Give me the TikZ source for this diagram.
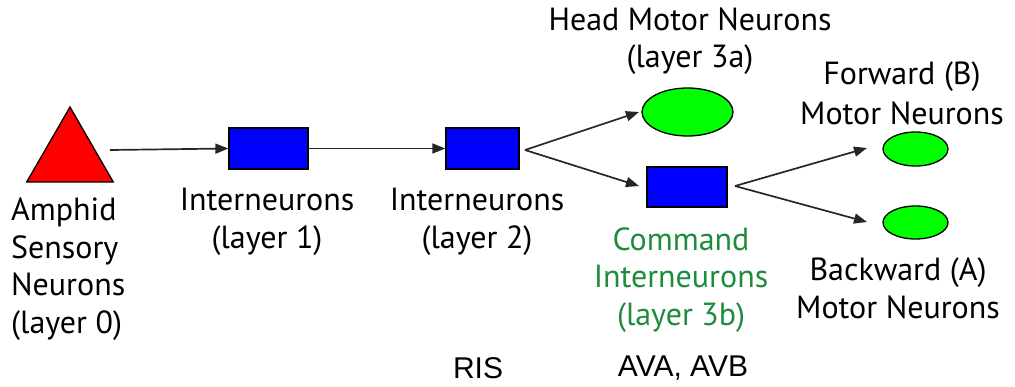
\documentclass[tikz,border=0pt]{standalone}
\usepackage{fontspec}
\setmainfont{PT Sans}
\newfontfamily\arialfont{Liberation Sans}
\usetikzlibrary{arrows.meta,shapes.geometric}
\definecolor{cmdgreen}{RGB}{30,140,60}
\tikzset{
  box/.style={draw=black, line width=1.3pt, fill=blue, minimum width=79pt, minimum height=41pt, inner sep=0pt},
  cell/.style={draw=black, line width=1.3pt, fill=green, ellipse, inner sep=0pt},
  arr/.style={line width=1.7pt, draw={black!85}, -{Triangle[length=13pt,width=10pt]}},
  lbl/.style={font=\fontsize{32}{37.5}\selectfont, align=center, inner sep=0pt},
  codes/.style={font=\arialfont\fontsize{30}{32}\selectfont, inner sep=0pt},
}
\begin{document}
\begin{tikzpicture}[x=1pt,y=-1pt]
\useasboundingbox (0,0) rectangle (1015,386);
\node[draw=black, line width=1.3pt, fill=red, regular polygon, regular polygon sides=3, minimum size=100pt, inner sep=0pt] (tri) at (70,157) {};
\node[box] (b1) at (268.5,148.5) {};
\node[box, minimum width=73pt] (b2) at (482.5,148.5) {};
\node[cell, minimum width=91pt, minimum height=48pt] (head) at (687.5,112) {};
\node[box, minimum width=80pt, minimum height=40pt] (b3) at (687,187) {};
\node[cell, minimum width=65pt, minimum height=34pt] (fwd) at (915.5,149) {};
\node[cell, minimum width=65pt, minimum height=33pt] (bwd) at (915.5,222.5) {};
\coordinate (s0) at (110,150);
\draw[arr] (s0) -- (b1.west);
\draw[arr] (b1.east) -- (b2.west);
\coordinate (s2) at (525,150);
\coordinate (e2a) at (639,112);
\coordinate (e2b) at (639,186);
\draw[arr] (s2) -- (e2a);
\draw[arr] (s2) -- (e2b);
\coordinate (s3) at (735,186);
\coordinate (e3a) at (867,148);
\coordinate (e3b) at (867,222);
\draw[arr] (s3) -- (e3a);
\draw[arr] (s3) -- (e3b);
\node[lbl, align=left, anchor=west] (t0) at (11,269) {Amphid\\Sensory\\Neurons\\(layer 0)};
\node[lbl] (t1) at (267,222) {Interneurons\\(layer 1)};
\node[lbl] (t2) at (477,222) {Interneurons\\(layer 2)};
\node[lbl] (t3a) at (690,41) {Head Motor Neurons\\(layer 3a)};
\node[lbl, text=cmdgreen] (t3b) at (681,280) {Command\\Interneurons\\(layer 3b)};
\node[lbl, font=\fontsize{32}{40}\selectfont] (tf) at (902,93) {Forward (B)\\Motor Neurons};
\node[lbl] (tb) at (898,288.5) {Backward (A)\\Motor Neurons};
\node[codes] (ris) at (478,368) {RIS};
\node[codes] (ava) at (683,368) {AVA, AVB};
\end{tikzpicture}
\end{document}
